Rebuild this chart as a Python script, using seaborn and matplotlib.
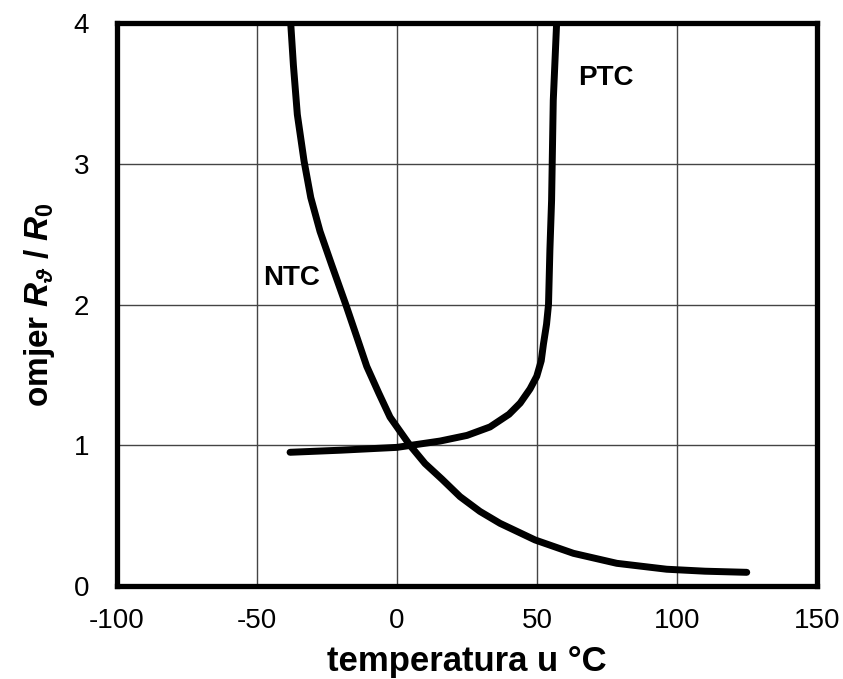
import matplotlib
matplotlib.use("Agg")
import matplotlib.pyplot as plt
import seaborn as sns
import pandas as pd

# ---- data ----
ntc_temp = [-38.0, -37.0, -35.6, -33.2, -30.8, -27.5, -23.3, -18.3, -14.2, -10.8,
            -6.5, -2.5, 4.6, 10.0, 16.0, 22.5, 29.6, 36.8, 49.3, 63.0, 78.5, 96.3,
            110.0, 124.9]
ntc_ratio = [4.01, 3.70, 3.35, 3.02, 2.76, 2.52, 2.28, 2.0, 1.76, 1.56,
             1.37, 1.20, 1.0, 0.87, 0.76, 0.635, 0.53, 0.445, 0.327, 0.232, 0.161, 0.119,
             0.105, 0.097]

ptc_temp = [-38.2, -20.0, 0.0, 15.4, 25.0, 33.2, 40.0, 44.0, 47.5, 49.9,
            51.5, 52.3, 53.4, 54.1, 54.6, 55.2, 55.8, 57.0]
ptc_ratio = [0.95, 0.965, 0.985, 1.03, 1.07, 1.13, 1.22, 1.30, 1.40, 1.49,
             1.60, 1.72, 1.86, 2.0, 2.39, 2.74, 3.45, 4.0]

x_ticks = [-100, -50, 0, 50, 100, 150]
y_ticks = [0, 1, 2, 3, 4]

ntc_df = pd.DataFrame({"temp": ntc_temp, "ratio": ntc_ratio})
ptc_df = pd.DataFrame({"temp": ptc_temp, "ratio": ptc_ratio})

sns.set_style("white")
plt.rcParams["font.family"] = ["Liberation Sans", "DejaVu Sans"]
plt.rcParams["text.color"] = "black"
plt.rcParams["axes.labelcolor"] = "black"
plt.rcParams["xtick.color"] = "black"
plt.rcParams["ytick.color"] = "black"
plt.rcParams["mathtext.fontset"] = "custom"
plt.rcParams["mathtext.rm"] = "Liberation Sans:bold"
plt.rcParams["mathtext.it"] = "Liberation Sans:bold:italic"
plt.rcParams["mathtext.bf"] = "Liberation Sans:bold"
plt.rcParams["mathtext.fallback"] = "stixsans"

fig = plt.figure(figsize=(8.43, 6.79), dpi=100)
ax = fig.add_axes([0.1388, 0.137, 0.9692 - 0.1388, 0.966 - 0.137])

line_kw = dict(color="black", linewidth=5.0, solid_capstyle="round",
               solid_joinstyle="round", sort=False, ax=ax)
sns.lineplot(data=ntc_df, x="temp", y="ratio", **line_kw)
sns.lineplot(data=ptc_df, x="temp", y="ratio", **line_kw)

ax.set_xlim(-100, 150)
ax.set_ylim(0, 4)
ax.set_xticks(x_ticks)
ax.set_yticks(y_ticks)
ax.set_xticklabels([str(v) for v in x_ticks])
ax.set_yticklabels([str(v) for v in y_ticks])
ax.grid(True, color="#444444", linewidth=1.0)
ax.set_axisbelow(True)
for s in ax.spines.values():
    s.set_visible(True)
    s.set_linewidth(3.8)
    s.set_color("black")
    s.set_zorder(5)

ax.tick_params(axis="x", length=0, pad=16, labelsize=20, colors="black")
ax.tick_params(axis="y", length=0, pad=20, labelsize=20, colors="black")

ax.set_xlabel("temperatura u °C", fontsize=25, fontweight="bold", labelpad=8, color="black")
ax.set_ylabel(r"omjer $R_\vartheta$ / $R_0$", fontsize=24, fontweight="bold", labelpad=12, color="black")

ax.text(-37.6, 2.19, "NTC", fontsize=20, fontweight="bold", ha="center", va="center", color="black")
ax.text(74.6, 3.61, "PTC", fontsize=20, fontweight="bold", ha="center", va="center", color="black")

fig.savefig("out.png", dpi=100)
